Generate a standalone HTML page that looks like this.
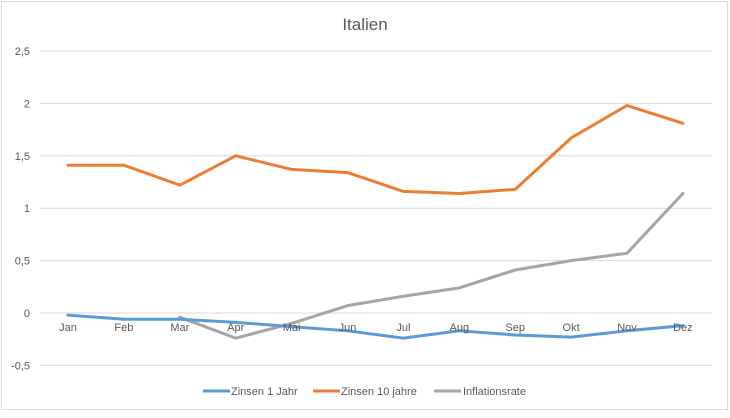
<!DOCTYPE html>
<html><head><meta charset="utf-8"><style>
body{margin:0;background:#fff;font-family:"Liberation Sans",sans-serif}
svg text{font-family:"Liberation Sans",sans-serif}
</style></head><body>
<svg width="730" height="413">
<rect x="1.5" y="1.5" width="726" height="408" fill="#fff" stroke="#d9d9d9"/>
<text x="365" y="30" font-size="17" fill="#595959" text-anchor="middle">Italien</text>
<g id="grid"></g><g id="lines"></g><g id="labels"></g>
<g font-size="11" fill="#595959">
<g><line x1="203" y1="391" x2="230" y2="391" stroke="#5b9bd5" stroke-width="3"/><text x="231" y="395">Zinsen 1 Jahr</text></g>
<g><line x1="313" y1="391" x2="340" y2="391" stroke="#ed7d31" stroke-width="3"/><text x="341" y="395">Zinsen 10 jahre</text></g>
<g><line x1="434" y1="391" x2="461" y2="391" stroke="#a5a5a5" stroke-width="3"/><text x="463" y="395">Inflationsrate</text></g>
</g>
</svg>
<script>
const categories=["Jan","Feb","Mar","Apr","Mai","Jun","Jul","Aug","Sep","Okt","Nov","Dez"];
const zinsen1=[-0.02,-0.06,-0.06,-0.09,-0.13,-0.17,-0.24,-0.17,-0.21,-0.23,-0.17,-0.12];
const zinsen10=[1.41,1.41,1.22,1.50,1.37,1.34,1.16,1.14,1.18,1.67,1.98,1.81];
const inflation=[null,null,-0.04,-0.24,-0.10,0.07,0.16,0.24,0.41,0.50,0.57,1.14];
const yTicks=[-0.5,0,0.5,1,1.5,2,2.5];
const yTickLabels=["-0,5","0","0,5","1","1,5","2","2,5"];
const NS="http://www.w3.org/2000/svg";
function y(v){return 313-v*104.8;}
function x(i){return 68+i*55.9;}
const grid=document.getElementById('grid'),lines=document.getElementById('lines'),labels=document.getElementById('labels');
yTicks.forEach((t,i)=>{
 const l=document.createElementNS(NS,'line');
 l.setAttribute('x1',40);l.setAttribute('x2',712);l.setAttribute('y1',y(t));l.setAttribute('y2',y(t));
 l.setAttribute('stroke','#d9d9d9');
 
 
 grid.appendChild(l);
 const tx=document.createElementNS(NS,'text');
 tx.setAttribute('x',30);tx.setAttribute('y',y(t)+4);tx.setAttribute('text-anchor','end');tx.setAttribute('font-size','11');tx.setAttribute('fill','#595959');
 tx.textContent=yTickLabels[i];
 
 
 labels.appendChild(tx);
});
categories.forEach((c,i)=>{
 const tx=document.createElementNS(NS,'text');
 tx.setAttribute('x',x(i));tx.setAttribute('y',y(0)+18);tx.setAttribute('text-anchor','middle');tx.setAttribute('font-size','11');tx.setAttribute('fill','#595959');
 tx.textContent=c;
 
 
 labels.appendChild(tx);
});
function draw(arr,color,name){
 let d='';let started=false;
 arr.forEach((v,i)=>{if(v===null)return;d+=(started?'L':'M')+x(i)+' '+y(v)+' ';started=true;});
 const p=document.createElementNS(NS,'path');
 p.setAttribute('d',d);p.setAttribute('fill','none');p.setAttribute('stroke',color);p.setAttribute('stroke-width','3');p.setAttribute('stroke-linejoin','round');p.setAttribute('stroke-linecap','round');
 
 
 lines.appendChild(p);
}
draw(zinsen10,'#ed7d31','series-zinsen-10-jahre');
draw(inflation,'#a5a5a5','series-inflationsrate');
draw(zinsen1,'#5b9bd5','series-zinsen-1-jahr');
</script>
</body></html>
